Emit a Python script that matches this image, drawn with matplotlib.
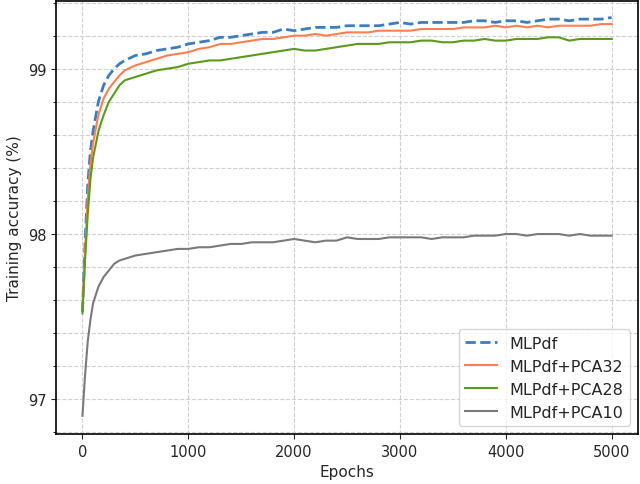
import matplotlib.pyplot as plt
from matplotlib.ticker import MultipleLocator

epochs = [0, 25, 50, 75, 100, 150, 200, 250, 300, 350, 400] + list(range(500, 5001, 100))

mlpdf = [97.53, 97.95, 98.30, 98.50, 98.62, 98.80, 98.90, 98.96, 99.00, 99.03, 99.05,
         99.08, 99.09, 99.11, 99.12, 99.13, 99.15, 99.16, 99.17, 99.19, 99.19,
         99.20, 99.21, 99.22, 99.22, 99.24, 99.23, 99.24, 99.25, 99.25, 99.25,
         99.26, 99.26, 99.26, 99.26, 99.27, 99.28, 99.27, 99.28, 99.28, 99.28,
         99.28, 99.28, 99.29, 99.29, 99.28, 99.29, 99.29, 99.28, 99.29, 99.30,
         99.30, 99.29, 99.30, 99.30, 99.30, 99.31]

pca32 = [97.55, 97.90, 98.22, 98.42, 98.55, 98.72, 98.82, 98.88, 98.92, 98.96, 98.99,
         99.02, 99.04, 99.06, 99.08, 99.09, 99.10, 99.12, 99.13, 99.15, 99.15,
         99.16, 99.17, 99.18, 99.18, 99.19, 99.20, 99.20, 99.21, 99.20, 99.21,
         99.22, 99.22, 99.22, 99.23, 99.23, 99.23, 99.23, 99.24, 99.24, 99.24,
         99.24, 99.25, 99.25, 99.25, 99.26, 99.25, 99.26, 99.25, 99.26, 99.25,
         99.26, 99.26, 99.26, 99.26, 99.27, 99.27]

pca28 = [97.52, 97.85, 98.12, 98.33, 98.46, 98.62, 98.72, 98.80, 98.85, 98.90, 98.93,
         98.95, 98.97, 98.99, 99.00, 99.01, 99.03, 99.04, 99.05, 99.05, 99.06,
         99.07, 99.08, 99.09, 99.10, 99.11, 99.12, 99.11, 99.11, 99.12, 99.13,
         99.14, 99.15, 99.15, 99.15, 99.16, 99.16, 99.16, 99.17, 99.17, 99.16,
         99.16, 99.17, 99.17, 99.18, 99.17, 99.17, 99.18, 99.18, 99.18, 99.19,
         99.19, 99.17, 99.18, 99.18, 99.18, 99.18]

pca10 = [96.90, 97.15, 97.35, 97.48, 97.58, 97.68, 97.74, 97.78, 97.82, 97.84, 97.85,
         97.87, 97.88, 97.89, 97.90, 97.91, 97.91, 97.92, 97.92, 97.93, 97.94,
         97.94, 97.95, 97.95, 97.95, 97.96, 97.97, 97.96, 97.95, 97.96, 97.96,
         97.98, 97.97, 97.97, 97.97, 97.98, 97.98, 97.98, 97.98, 97.97, 97.98,
         97.98, 97.98, 97.99, 97.99, 97.99, 98.00, 98.00, 97.99, 98.00, 98.00,
         98.00, 97.99, 98.00, 97.99, 97.99, 97.99]

labels = ['MLPdf', 'MLPdf+PCA32', 'MLPdf+PCA28', 'MLPdf+PCA10']
colors = ['#3b7dbf', '#ff7f50', '#5b9a1b', '#7a7a7a']

fig, ax = plt.subplots(figsize=(6.4, 4.85), dpi=100)
fig.subplots_adjust(left=0.0875, right=0.997, top=0.996, bottom=0.103)

ax.plot(epochs, mlpdf, '--', color=colors[0], lw=2, label=labels[0])
ax.plot(epochs, pca32, color=colors[1], lw=1.5, label=labels[1])
ax.plot(epochs, pca28, color=colors[2], lw=1.5, label=labels[2])
ax.plot(epochs, pca10, color=colors[3], lw=1.5, label=labels[3])

ax.set_xlim(-250, 5250)
ax.set_ylim(96.79, 99.41)
ax.set_xticks([0, 1000, 2000, 3000, 4000, 5000])
ax.yaxis.set_major_locator(MultipleLocator(1))
ax.yaxis.set_minor_locator(MultipleLocator(0.2))
ax.grid(True, which='both', linestyle='--', color='#d0d0d0', lw=0.8)
ax.set_axisbelow(True)
for s in ax.spines.values():
    s.set_linewidth(1.2)
ax.tick_params(labelsize=10.5, colors='#262626')

ax.set_xlabel('Epochs', fontsize=11, color='#262626')
ax.set_ylabel('Training accuracy (%)', fontsize=11, color='#262626')
leg = ax.legend(loc='lower right', fontsize=11.5)
for t in leg.get_texts():
    t.set_color('#262626')

plt.savefig('out.png')
